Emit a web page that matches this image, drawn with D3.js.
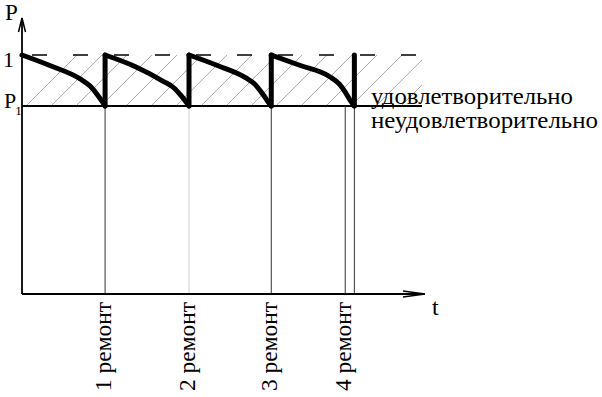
<!DOCTYPE html>
<html><head><meta charset="utf-8">
<script src="https://cdn.jsdelivr.net/npm/d3@7"></script>
<style>html,body{margin:0;padding:0;background:#fff}svg{display:block}
text{font-family:'Liberation Serif','Times New Roman',Times,'DejaVu Serif','Noto Serif',serif;}</style>
</head><body><svg id="c" width="602" height="397"></svg>
<script>
// ---- data ----
const P1 = 0.787;                       // satisfactory threshold
const cycle1 = [[0,1],[0.35,0.954],[0.70,0.90],[0.82,0.87],[0.90,0.837],[0.96,0.808],[1.0,0.787]];
const cycle2 = [[1.0,1],[1.36,0.952],[1.70,0.89],[1.83,0.862],[1.91,0.832],[1.97,0.806],[2.01,0.787]];
const cycle3 = [[2.01,1],[2.36,0.955],[2.69,0.905],[2.81,0.875],[2.89,0.84],[2.95,0.81],[3.0,0.787]];
const cycle4 = [[3.0,1],[3.35,0.956],[3.70,0.91],[3.82,0.878],[3.89,0.845],[3.95,0.81],[4.0,0.787]];
const jumpTimes = [1.0, 2.01, 3.0, 4.0];
const markTimes = [1.0, 2.01, 3.0, 3.89, 4.0];
const repairLabels = ["1 ремонт","2 ремонт","3 ремонт","4 ремонт"];
const zoneLabels = ["удовлетворительно","неудовлетворительно"];

// ---- scales ----
const svg = d3.select("#c");
const x = d3.scaleLinear().domain([0, 4.85]).range([22, 425]);
const y = d3.scaleLinear().domain([0, 1]).range([294, 55]);
const xEnd = 422;

// hatch region
const defs = svg.append("defs");
defs.append("clipPath").attr("id","hc").append("rect")
  .attr("x", x(0)).attr("y", y(1)).attr("width", xEnd - x(0)).attr("height", y(P1) - y(1));
const hg = svg.append("g").attr("clip-path","url(#hc)");
const hh = y(P1) - y(1);
for (let bx = x(0) + 4; bx < xEnd + hh; bx += 25) {
  hg.append("line").attr("x1", bx).attr("y1", y(P1)).attr("x2", bx + hh).attr("y2", y(1))
    .attr("stroke", "#808080").attr("stroke-width", 0.7);
}

// top dashed line at P = 1
svg.append("line").attr("x1", 32).attr("x2", xEnd).attr("y1", y(1)).attr("y2", y(1))
  .attr("stroke","#000").attr("stroke-width",1.5).attr("stroke-dasharray","15,26");
// P1 line
svg.append("line").attr("x1", x(0)).attr("x2", xEnd).attr("y1", y(P1)).attr("y2", y(P1))
  .attr("stroke","#000").attr("stroke-width",2);

// repair marks
svg.selectAll("line.mark").data(markTimes).join("line").attr("class","mark")
  .attr("x1", d => x(d)).attr("x2", d => x(d)).attr("y1", y(P1)).attr("y2", y(0))
  .attr("stroke", (d,i) => i === 1 ? "#d0d0d0" : "#333").attr("stroke-width", 1);

// axes
svg.append("line").attr("x1", x(0)).attr("x2", x(0)).attr("y1", y(0)).attr("y2", 18)
  .attr("stroke","#000").attr("stroke-width",1.8);
svg.append("path").attr("d","M18.5,32 L22,18 L25.5,32").attr("fill","none").attr("stroke","#000").attr("stroke-width",1.5);
svg.append("line").attr("x1", x(0)).attr("x2", 425).attr("y1", y(0)).attr("y2", y(0))
  .attr("stroke","#000").attr("stroke-width",1.8);
svg.append("path").attr("d","M403,291 L425,294 L403,297 M408,294 L425,294").attr("fill","none").attr("stroke","#000").attr("stroke-width",1.5);

// reliability curve
const line = d3.line().x(d => x(d[0])).y(d => y(d[1])).curve(d3.curveMonotoneX);
[cycle1, cycle2, cycle3, cycle4].forEach(c => {
  svg.append("path").attr("d", line(c)).attr("fill","none").attr("stroke","#000")
    .attr("stroke-width",5).attr("stroke-linecap","round").attr("stroke-linejoin","round");
});
svg.selectAll("line.jump").data(jumpTimes).join("line").attr("class","jump")
  .attr("x1", d => x(d)).attr("x2", d => x(d)).attr("y1", y(P1)).attr("y2", y(1))
  .attr("stroke","#000").attr("stroke-width",5).attr("stroke-linecap","round");

// repair labels
svg.selectAll("text.rl").data(repairLabels).join("text").attr("class","rl")
  .attr("transform", (d,i) => `translate(${x(markTimes[i]) + 5.5},302) rotate(-90)`)
  .attr("text-anchor","end").attr("font-size",23)
  .attr("textLength", 89).attr("lengthAdjust","spacingAndGlyphs").text(d => d);

// zone labels
svg.append("text").attr("x",371).attr("y",104).attr("font-size",23)
  .attr("textLength",202).attr("lengthAdjust","spacingAndGlyphs").text(zoneLabels[0]);
svg.append("text").attr("x",371).attr("y",128).attr("font-size",23)
  .attr("textLength",227).attr("lengthAdjust","spacingAndGlyphs").text(zoneLabels[1]);

// axis labels
svg.append("text").attr("x",5).attr("y",20).attr("font-size",23).text("P");
svg.append("text").attr("x",432).attr("y",315).attr("font-size",24).text("t");
svg.append("text").attr("x",3).attr("y",67).attr("font-size",22).text("1");
const p1 = svg.append("text").attr("x",4).attr("y",108).attr("font-size",22);
p1.append("tspan").text("P");
p1.append("tspan").attr("font-size",13).attr("dy",7).attr("dx",-1).text("1");
</script></body></html>
